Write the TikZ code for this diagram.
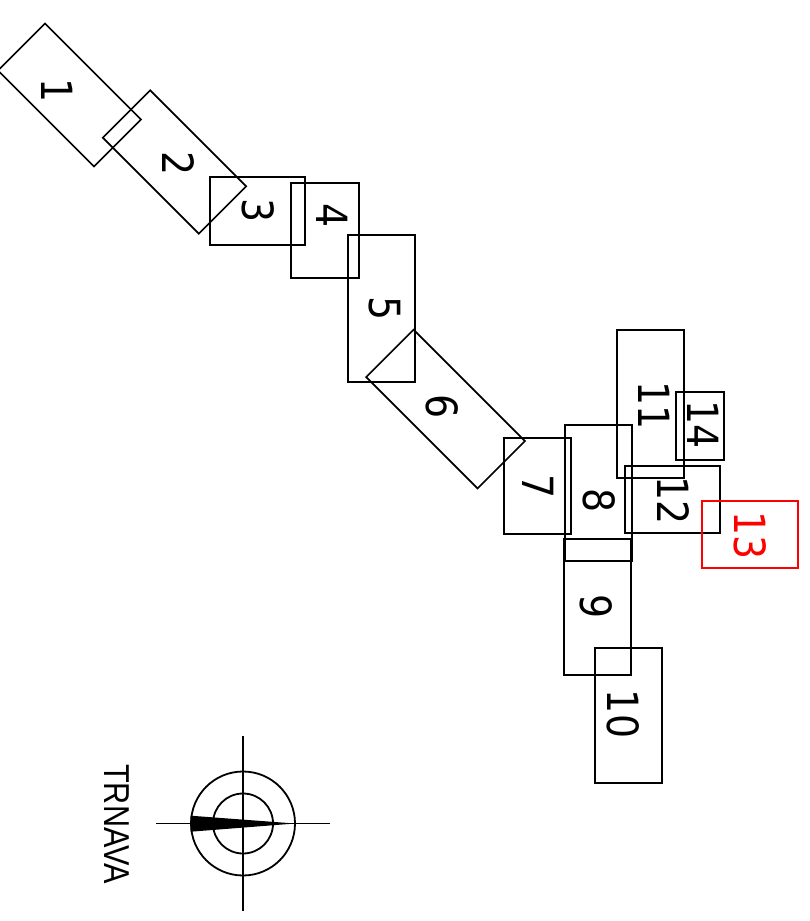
\documentclass[tikz,border=0pt]{standalone}
\usepackage{fontspec}
\setmainfont{DejaVu Sans}
\newfontfamily\labelfont{Liberation Sans}
\newcommand{\dg}[1]{\scalebox{0.88}[1]{#1}}
\tikzset{
  box/.style={draw=black,line width=2pt,inner sep=0pt,outer sep=0pt},
  diagbox/.style={box,line width=1.6pt,rotate=-45},
  redbox/.style={box,draw=red},
  num/.style={inner sep=0pt,rotate=-90,font=\fontsize{43}{43}\selectfont},
  compassline/.style={draw=black,line width=1.8pt},
}
\begin{document}
\begin{tikzpicture}[x=1pt,y=-1pt]
\useasboundingbox (0,0) rectangle (810,921);
% diagonal boxes
\node[diagbox,minimum width=135.8pt,minimum height=66.5pt] (b1) at (69.5,95) {};
\node[diagbox,minimum width=135.8pt,minimum height=67pt] (b2) at (174.5,162) {};
\node[diagbox,minimum width=157.5pt,minimum height=67pt] (b6) at (445.5,409) {};
% upright boxes
\node[box,minimum width=95.5pt,minimum height=68pt] (b3) at (257.25,211) {};
\node[box,minimum width=67.5pt,minimum height=95pt] (b4) at (324.75,230.5) {};
\node[box,minimum width=66.5pt,minimum height=147pt] (b5) at (381.25,308.5) {};
\node[box,minimum width=67.5pt,minimum height=95.5pt] (b7) at (537.25,485.75) {};
\node[box,minimum width=67pt,minimum height=136pt] (b8) at (598.5,493) {};
\node[box,minimum width=67.5pt,minimum height=136pt] (b9) at (597.25,607) {};
\node[box,minimum width=67pt,minimum height=135pt] (b10) at (628.5,715.5) {};
\node[box,minimum width=67pt,minimum height=148pt] (b11) at (650.5,404) {};
\node[box,minimum width=95pt,minimum height=67pt] (b12) at (672.5,499.5) {};
\node[redbox,minimum width=95.5pt,minimum height=67pt] (b13) at (749.75,534.5) {};
\node[box,minimum width=47.5pt,minimum height=68pt] (b14) at (699.75,426) {};
% labels
\node[num] (t1) at (57,90.5) {\dg{1}};
\node[num] (t2) at (178.5,163.5) {\dg{2}};
\node[num] (t3) at (258,211) {\dg{3}};
\node[num] (t4) at (332,216) {\dg{4}};
\node[num] (t5) at (385,309) {\dg{5}};
\node[num] (t6) at (442.5,407) {\dg{6}};
\node[num] (t7) at (538,487) {\dg{7}};
\node[num] (t8) at (599,501) {\dg{8}};
\node[num] (t9) at (596.5,607) {\dg{9}};
\node[num] (t10) at (623.5,714) {\dg{10}};
\node[num] (t11) at (654,406) {\dg{11}};
\node[num] (t12) at (673,501) {\dg{12}};
\node[num,text=red] (t13) at (750,535.5) {\dg{13}};
\node[num] (t14) at (703.5,425) {\dg{14}};
% compass
\coordinate (c) at (243,823.5);
\draw[compassline] (243,736) -- (243,911);
\draw[compassline] (156,823.5) -- (330,823.5);
\draw[compassline] (c) circle[radius=52];
\draw[compassline] (c) circle[radius=30];
\fill[black] (190.7,815.7) -- (295,823.5) -- (190.7,831.7) -- cycle;
\node[inner sep=0pt,rotate=-90,font=\labelfont\fontsize{36}{36}\selectfont] (trnava) at (117,824) {\scalebox{0.85}[1]{TRNAVA}};
\end{tikzpicture}
\end{document}
